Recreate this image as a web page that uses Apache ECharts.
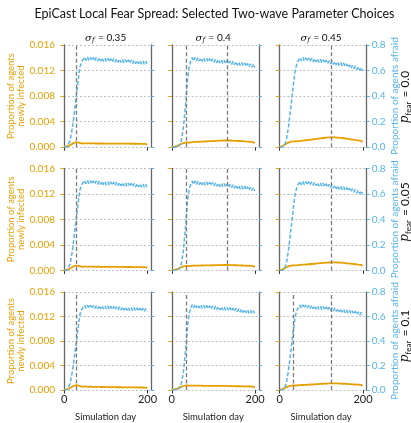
<!DOCTYPE html>
<html>
<head>
<meta charset="utf-8">
<script src="https://cdn.jsdelivr.net/npm/echarts@6/dist/echarts.min.js"></script>
<style>
  html, body { margin: 0; padding: 0; background: #fff; }
  #chart { width: 411px; height: 423px; }
</style>
</head>
<body>
<div id="chart"></div>
<script>
// Simulation days sampled twice per week (start of week and mid-week)
const days = [0,3,7,10,14,17,21,24,28,31,35,38,42,45,49,52,56,59,63,66,70,73,77,80,84,87,91,94,98,101,
  105,108,112,115,119,122,126,129,133,136,140,143,147,150,154,157,161,164,168,171,175,178,182,185,189,192,196,199];

// Column and row parameters
const sigmaValues = ['0.35', '0.4', '0.45'];
const pFearValues = ['0.0', '0.05', '0.1'];

// Proportion of agents newly infected (left axis)
const infected_p00_s035 = [0.00002,0.00005,0.00012,0.0002,0.00032,0.00045,0.0006,0.0007,0.00078,0.00076,0.0007,0.00062,0.00058,0.0005,
  0.00061,0.00042,0.0006,0.00041,0.00059,0.00041,0.00059,0.0004,0.00058,0.0004,0.00058,0.00039,0.00058,0.00039,0.00057,0.00039,
  0.00057,0.00039,0.00057,0.00038,0.00056,0.00038,0.00056,0.00038,0.00056,0.00038,0.00055,0.00037,0.00055,0.00037,0.00055,0.00037,
  0.00054,0.00036,0.00054,0.00036,0.00054,0.00036,0.00053,0.00035,0.00053,0.00035,0.00052,0.00034];
const infected_p00_s040 = [0.00002,0.00005,0.0001,0.00016,0.00025,0.00035,0.00045,0.00055,0.00065,0.0007,0.00075,0.0007,0.00072,0.00064,
  0.0008,0.00061,0.00082,0.00063,0.00084,0.00065,0.00087,0.00067,0.00089,0.0007,0.00092,0.00072,0.00095,0.00075,0.00097,0.00077,
  0.001,0.0008,0.00102,0.00082,0.00104,0.00084,0.00105,0.00085,0.00106,0.00086,0.00105,0.00085,0.00103,0.00083,0.001,0.0008,
  0.00097,0.00077,0.00094,0.00074,0.0009,0.0007,0.00087,0.00067,0.00084,0.00064,0.00081,0.00061];
const infected_p00_s045 = [0.00003,0.00008,0.00018,0.0003,0.00045,0.0006,0.00072,0.0008,0.00086,0.00082,0.0009,0.00084,0.00092,0.00086,
  0.001,0.0008,0.00104,0.00084,0.00109,0.00089,0.00114,0.00094,0.0012,0.001,0.00126,0.00106,0.00132,0.00112,0.00138,0.00118,
  0.00144,0.00124,0.00149,0.00129,0.00153,0.00133,0.00155,0.00135,0.00154,0.00134,0.00151,0.00131,0.00146,0.00126,0.0014,0.0012,
  0.00133,0.00113,0.00126,0.00106,0.00119,0.00099,0.00112,0.00092,0.00106,0.00086,0.001,0.0008];
const infected_p05_s035 = [0.00002,0.00005,0.00012,0.0002,0.00032,0.00045,0.0006,0.0007,0.00078,0.00077,0.00071,0.00063,0.00059,0.00051,
  0.00062,0.00043,0.00061,0.00042,0.0006,0.00042,0.0006,0.00041,0.00059,0.00041,0.00059,0.0004,0.00058,0.0004,0.00058,0.0004,
  0.00058,0.00039,0.00057,0.00039,0.00057,0.00039,0.00057,0.00038,0.00056,0.00038,0.00056,0.00038,0.00056,0.00037,0.00055,0.00037,
  0.00055,0.00037,0.00054,0.00036,0.00054,0.00036,0.00053,0.00035,0.00053,0.00035,0.00052,0.00034];
const infected_p05_s040 = [0.00002,0.00005,0.0001,0.00016,0.00025,0.00035,0.00045,0.00055,0.00065,0.0007,0.00074,0.00069,0.0007,0.00062,
  0.00076,0.00057,0.00076,0.00057,0.00077,0.00058,0.00078,0.00059,0.00079,0.0006,0.0008,0.00061,0.00081,0.00062,0.00082,0.00063,
  0.00083,0.00064,0.00084,0.00065,0.00085,0.00066,0.00086,0.00067,0.00086,0.00067,0.00085,0.00066,0.00084,0.00065,0.00082,0.00063,
  0.0008,0.00061,0.00078,0.00059,0.00076,0.00057,0.00074,0.00055,0.00072,0.00053,0.0007,0.00051];
const infected_p05_s045 = [0.00003,0.00008,0.00017,0.00028,0.00042,0.00055,0.00066,0.00073,0.00078,0.00074,0.0008,0.00074,0.00081,0.00075,
  0.00088,0.00068,0.00091,0.00071,0.00094,0.00074,0.00098,0.00078,0.00102,0.00082,0.00106,0.00086,0.0011,0.0009,0.00114,0.00094,
  0.00118,0.00098,0.00122,0.00102,0.00125,0.00105,0.00127,0.00107,0.00127,0.00107,0.00125,0.00105,0.00122,0.00102,0.00118,0.00098,
  0.00113,0.00093,0.00108,0.00088,0.00103,0.00083,0.00098,0.00078,0.00093,0.00073,0.00089,0.00069];
const infected_p10_s035 = [0.00002,0.00005,0.00012,0.0002,0.00033,0.00046,0.00061,0.00072,0.0008,0.00077,0.0007,0.0006,0.00054,0.00046,
  0.00056,0.00038,0.00054,0.00036,0.00053,0.00035,0.00052,0.00034,0.00051,0.00033,0.0005,0.00032,0.00049,0.00031,0.00048,0.00031,
  0.00047,0.0003,0.00047,0.00029,0.00046,0.00029,0.00045,0.00028,0.00045,0.00028,0.00044,0.00027,0.00044,0.00027,0.00043,0.00026,
  0.00043,0.00026,0.00042,0.00025,0.00042,0.00025,0.00041,0.00024,0.00041,0.00024,0.0004,0.00023];
const infected_p10_s040 = [0.00002,0.00005,0.0001,0.00016,0.00025,0.00035,0.00046,0.00056,0.00066,0.00072,0.00077,0.00072,0.0007,0.00062,
  0.00072,0.00053,0.00071,0.00052,0.0007,0.00051,0.0007,0.00051,0.00069,0.0005,0.00069,0.0005,0.00068,0.00049,0.00068,0.00049,
  0.00067,0.00048,0.00067,0.00048,0.00066,0.00047,0.00066,0.00047,0.00065,0.00046,0.00064,0.00045,0.00063,0.00044,0.00062,0.00043,
  0.00061,0.00042,0.0006,0.00041,0.00059,0.0004,0.00058,0.00039,0.00057,0.00038,0.00056,0.00037];
const infected_p10_s045 = [0.00003,0.00007,0.00015,0.00025,0.00038,0.0005,0.0006,0.00067,0.00072,0.00068,0.00074,0.00068,0.00074,0.00068,
  0.0008,0.00061,0.00082,0.00063,0.00084,0.00065,0.00087,0.00068,0.0009,0.00071,0.00093,0.00074,0.00096,0.00077,0.00099,0.0008,
  0.00102,0.00083,0.00105,0.00086,0.00107,0.00088,0.00108,0.00089,0.00108,0.00089,0.00107,0.00088,0.00105,0.00086,0.00102,0.00083,
  0.00099,0.0008,0.00096,0.00077,0.00093,0.00074,0.0009,0.00071,0.00087,0.00068,0.00084,0.00065];

// Proportion of agents afraid (right axis)
const afraid_p00_s035 = [0,0,0.002,0.01,0.05,0.1,0.18,0.26,0.37,0.45,0.56,0.63,0.67,0.678,
  0.704,0.679,0.705,0.679,0.703,0.678,0.702,0.676,0.701,0.675,0.699,0.674,0.698,0.672,0.696,0.671,0.695,0.669,0.693,0.668,
  0.692,0.666,0.690,0.665,0.689,0.663,0.687,0.662,0.685,0.660,0.684,0.658,0.682,0.656,0.680,0.655,0.678,0.653,0.676,0.651,
  0.674,0.649,0.672,0.646];
const afraid_p00_s040 = [0,0,0,0.001,0.003,0.008,0.025,0.07,0.16,0.26,0.40,0.54,0.635,0.668,
  0.702,0.676,0.703,0.677,0.701,0.675,0.699,0.673,0.697,0.671,0.695,0.669,0.693,0.667,0.691,0.665,0.688,0.662,0.686,0.660,
  0.683,0.657,0.681,0.655,0.678,0.652,0.675,0.649,0.672,0.646,0.669,0.643,0.666,0.640,0.663,0.637,0.659,0.633,0.656,0.630,
  0.652,0.626,0.649,0.622];
const afraid_p00_s045 = [0,0,0.001,0.006,0.03,0.07,0.15,0.23,0.34,0.43,0.54,0.61,0.66,0.672,
  0.701,0.675,0.702,0.676,0.700,0.674,0.698,0.672,0.696,0.670,0.693,0.667,0.691,0.665,0.688,0.662,0.685,0.659,0.681,0.655,
  0.678,0.652,0.674,0.648,0.670,0.644,0.666,0.640,0.662,0.636,0.657,0.631,0.651,0.625,0.645,0.619,0.640,0.614,0.634,0.608,
  0.629,0.603,0.623,0.597];
const afraid_p05_s035 = [0,0,0.002,0.01,0.05,0.1,0.18,0.27,0.38,0.46,0.57,0.635,0.672,0.68,
  0.705,0.680,0.704,0.679,0.703,0.678,0.702,0.677,0.700,0.675,0.699,0.674,0.698,0.672,0.696,0.671,0.694,0.669,0.693,0.667,
  0.691,0.666,0.690,0.664,0.688,0.663,0.687,0.661,0.685,0.660,0.684,0.658,0.682,0.657,0.681,0.655,0.679,0.654,0.678,0.652,
  0.676,0.651,0.674,0.648];
const afraid_p05_s040 = [0,0,0,0.001,0.003,0.008,0.025,0.07,0.16,0.27,0.41,0.55,0.64,0.67,
  0.701,0.675,0.701,0.675,0.699,0.673,0.697,0.671,0.695,0.669,0.693,0.667,0.691,0.665,0.689,0.663,0.687,0.661,0.684,0.658,
  0.682,0.656,0.680,0.654,0.677,0.651,0.674,0.648,0.671,0.645,0.668,0.642,0.665,0.639,0.662,0.636,0.659,0.633,0.655,0.629,
  0.652,0.626,0.649,0.623];
const afraid_p05_s045 = [0,0,0.001,0.006,0.03,0.07,0.15,0.23,0.34,0.43,0.54,0.61,0.655,0.668,
  0.698,0.672,0.699,0.673,0.697,0.671,0.695,0.669,0.693,0.667,0.690,0.664,0.688,0.662,0.685,0.659,0.682,0.656,0.679,0.653,
  0.675,0.649,0.671,0.645,0.667,0.641,0.663,0.637,0.659,0.633,0.654,0.628,0.649,0.623,0.644,0.618,0.639,0.613,0.633,0.607,
  0.628,0.602,0.622,0.596];
const afraid_p10_s035 = [0,0,0.002,0.01,0.05,0.1,0.18,0.26,0.36,0.44,0.55,0.62,0.66,0.668,
  0.694,0.668,0.694,0.668,0.693,0.667,0.692,0.666,0.691,0.665,0.690,0.664,0.688,0.663,0.687,0.662,0.686,0.660,0.684,0.659,
  0.683,0.658,0.682,0.656,0.680,0.655,0.679,0.654,0.677,0.652,0.676,0.651,0.674,0.649,0.673,0.648,0.671,0.646,0.669,0.645,
  0.668,0.643,0.666,0.641];
const afraid_p10_s040 = [0,0,0,0.001,0.003,0.008,0.025,0.07,0.15,0.25,0.39,0.53,0.63,0.665,
  0.698,0.672,0.699,0.673,0.697,0.671,0.695,0.669,0.693,0.667,0.691,0.665,0.689,0.663,0.687,0.661,0.685,0.659,0.682,0.656,
  0.680,0.654,0.678,0.652,0.675,0.649,0.673,0.647,0.670,0.644,0.667,0.641,0.664,0.638,0.661,0.635,0.658,0.632,0.655,0.629,
  0.652,0.626,0.649,0.623];
const afraid_p10_s045 = [0,0,0.001,0.006,0.03,0.07,0.15,0.23,0.34,0.43,0.54,0.61,0.655,0.668,
  0.696,0.670,0.697,0.671,0.695,0.669,0.693,0.667,0.691,0.665,0.689,0.663,0.687,0.661,0.684,0.658,0.682,0.656,0.679,0.653,
  0.676,0.650,0.673,0.647,0.670,0.644,0.666,0.640,0.663,0.637,0.659,0.633,0.655,0.629,0.651,0.625,0.647,0.621,0.643,0.617,
  0.639,0.613,0.635,0.609];

// Days of the infection-wave peaks, marked with vertical dashed lines
const wavePeaks_p00 = [[28], [34, 132], [124]];
const wavePeaks_p05 = [[28], [34, 132], [124]];
const wavePeaks_p10 = [[28], [34], [34, 124]];

// Axis tick labels
const dayTicks = [0, 200];

const infectedRows = [
  [infected_p00_s035, infected_p00_s040, infected_p00_s045],
  [infected_p05_s035, infected_p05_s040, infected_p05_s045],
  [infected_p10_s035, infected_p10_s040, infected_p10_s045]
];
const afraidRows = [
  [afraid_p00_s035, afraid_p00_s040, afraid_p00_s045],
  [afraid_p05_s035, afraid_p05_s040, afraid_p05_s045],
  [afraid_p10_s035, afraid_p10_s040, afraid_p10_s045]
];
const peakRows = [wavePeaks_p00, wavePeaks_p05, wavePeaks_p10];

const ORANGE = '#E69F00';
const BLUE = '#56B4E9';
const SPINE = '#666666';
const FONT = 'Lato';

const colLeft = [60, 167.6, 275.4];
const rowTop = [45, 168.3, 292.2];
const cellW = 91.3;
const cellH = 102.2;

const grids = [], xAxes = [], yAxes = [], series = [], graphics = [];

for (let r = 0; r < 3; r++) {
  for (let c = 0; c < 3; c++) {
    const g = r * 3 + c;
    const bottomRow = r === 2;
    grids.push({ left: colLeft[c], top: rowTop[r], width: cellW, height: cellH });

    xAxes.push({
      type: 'value', gridIndex: g, min: -10, max: 209,
      axisLine: { show: false },
      axisTick: { show: true, customValues: dayTicks, length: 3.5, lineStyle: { color: '#333', width: 1 } },
      axisLabel: { show: bottomRow, customValues: dayTicks, fontSize: 11, color: '#222', margin: 4, fontFamily: FONT },
      splitLine: { show: false },
      name: bottomRow ? 'Simulation day' : '',
      nameLocation: 'middle', nameGap: 22,
      nameTextStyle: { fontSize: 9.5, color: '#222', fontFamily: FONT }
    });

    // left axis: newly infected
    yAxes.push({
      type: 'value', gridIndex: g, position: 'left', min: 0, max: 0.016, interval: 0.004,
      axisLine: { show: true, lineStyle: { color: SPINE, width: 1.3 } },
      axisTick: { show: true, length: 3, lineStyle: { color: ORANGE, width: 1 } },
      axisLabel: { show: c === 0, color: ORANGE, fontSize: 10, margin: 5, fontFamily: FONT,
        formatter: v => v.toFixed(3) },
      splitLine: { show: true, showMinLine: true, showMaxLine: true,
        lineStyle: { color: '#b0b0b0', width: 0.8, type: [2, 2] } },
      name: c === 0 ? 'Proportion of agents\nnewly infected' : '',
      nameLocation: 'middle', nameGap: 33, nameRotate: 90,
      nameTextStyle: { color: ORANGE, fontSize: 9.5, lineHeight: 9.5, fontFamily: FONT }
    });
    // right axis: afraid
    yAxes.push({
      type: 'value', gridIndex: g, position: 'right', min: 0, max: 0.8, interval: 0.2,
      axisLine: { show: true, lineStyle: { color: SPINE, width: 1.3 } },
      axisTick: { show: true, length: 3, lineStyle: { color: BLUE, width: 1 } },
      axisLabel: { show: c === 2, color: BLUE, fontSize: 10, margin: 5, fontFamily: FONT,
        formatter: v => v.toFixed(1) },
      splitLine: { show: false },
      name: c === 2 ? 'Proportion of agents afraid' : '',
      nameLocation: 'middle', nameGap: 17, nameRotate: 90,
      nameTextStyle: { color: BLUE, fontSize: 10, fontFamily: FONT }
    });

    series.push({
      type: 'line', xAxisIndex: g, yAxisIndex: 2 * g,
      data: days.map((d, i) => [d, infectedRows[r][c][i]]),
      showSymbol: false, symbol: 'none', z: 3,
      lineStyle: { color: ORANGE, width: 1.8 },
      markLine: {
        silent: true, symbol: 'none', label: { show: false },
        lineStyle: { color: '#7a7a7a', width: 1.3, type: [4, 2.5] },
        data: peakRows[r][c].map(d => ({ xAxis: d }))
      }
    });
    series.push({
      type: 'line', xAxisIndex: g, yAxisIndex: 2 * g + 1,
      data: days.map((d, i) => [d, afraidRows[r][c][i]]),
      showSymbol: false, symbol: 'none', z: 4,
      lineStyle: { color: BLUE, width: 1.5, type: [4, 2] }
    });
  }
}

// Column headers (sigma_f)
sigmaValues.forEach((s, c) => {
  graphics.push({
    type: 'text', x: colLeft[c] + cellW / 2, y: 38,
    style: {
      text: '{i|σ}{sub|f}{n| = ' + s + '}',
      align: 'center', verticalAlign: 'middle',
      textAlign: 'center', textVerticalAlign: 'middle',
      fill: '#111',
      rich: {
        i: { fontFamily: 'DejaVu Serif', fontStyle: 'italic', fontSize: 10, fill: '#111' },
        sub: { fontFamily: 'DejaVu Serif', fontStyle: 'italic', fontSize: 7, fill: '#111', padding: [5, 1, 0, 0] },
        n: { fontFamily: FONT, fontSize: 10, fill: '#111' }
      }
    }
  });
});

// Row labels (p_fear)
const rowLabelY = [97, 212, 336];
pFearValues.forEach((p, r) => {
  graphics.push({
    type: 'text', x: 405, y: rowLabelY[r], rotation: Math.PI / 2,
    style: {
      text: '{i|p}{sub|fear}{n| = ' + p + '}',
      align: 'center', verticalAlign: 'middle',
      textAlign: 'center', textVerticalAlign: 'middle',
      fill: '#111',
      rich: {
        i: { fontFamily: 'DejaVu Serif', fontStyle: 'italic', fontSize: 12, fill: '#111' },
        sub: { fontFamily: FONT, fontSize: 8, fill: '#111', padding: [6, 1, 0, 0] },
        n: { fontFamily: FONT, fontSize: 12, fill: '#111' }
      }
    }
  });
});

// Figure title
graphics.push({
  type: 'text', x: 214.5, y: 14,
  style: {
    text: 'EpiCast Local Fear Spread: Selected Two-wave Parameter Choices',
    align: 'center', verticalAlign: 'middle',
    textAlign: 'center', textVerticalAlign: 'middle',
    font: '12.5px Lato', fill: '#111'
  }
});

const chart = echarts.init(document.getElementById('chart'), null, { renderer: 'canvas' });
chart.setOption({
  animation: false,
  backgroundColor: '#ffffff',
  textStyle: { fontFamily: FONT },
  grid: grids,
  xAxis: xAxes,
  yAxis: yAxes,
  series: series,
  graphic: graphics
});
</script>
</body>
</html>
